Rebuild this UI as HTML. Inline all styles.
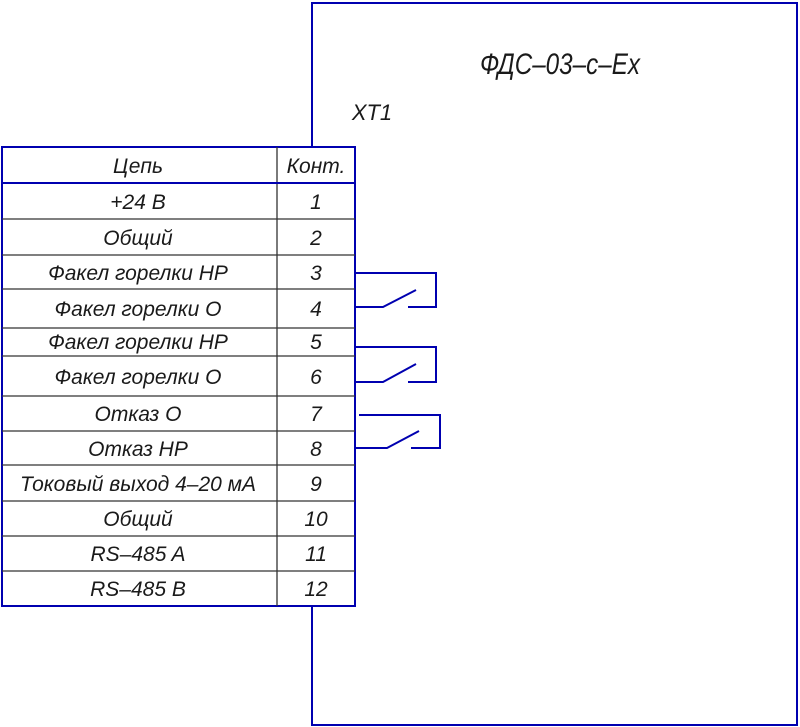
<!DOCTYPE html>
<html><head><meta charset="utf-8"><style>
html,body{margin:0;padding:0;background:#fff;}
svg{display:block}
text{font-family:"Liberation Sans Narrow","Liberation Sans",sans-serif;font-style:italic;fill:#1a1a1a;}
</style></head><body>
<svg width="800" height="727" viewBox="0 0 800 727" xmlns="http://www.w3.org/2000/svg">
<g stroke="#0000b0" stroke-width="2" fill="none">
<polyline points="312,147 312,3 797,3 797,725 312,725 312,606"/>
<rect x="2" y="147" width="353" height="459"/>
</g>
<g stroke="#333" stroke-width="1.3">
<line x1="277" y1="147" x2="277" y2="606"/>
<line x1="2" y1="183" x2="355" y2="183" stroke="#0000b0" stroke-width="2"/>
<line x1="2" y1="219" x2="355" y2="219"/>
<line x1="2" y1="255" x2="355" y2="255"/>
<line x1="2" y1="289" x2="355" y2="289"/>
<line x1="2" y1="328" x2="355" y2="328"/>
<line x1="2" y1="356" x2="355" y2="356"/>
<line x1="2" y1="396" x2="355" y2="396"/>
<line x1="2" y1="431" x2="355" y2="431"/>
<line x1="2" y1="465" x2="355" y2="465"/>
<line x1="2" y1="501" x2="355" y2="501"/>
<line x1="2" y1="536" x2="355" y2="536"/>
<line x1="2" y1="571" x2="355" y2="571"/>
</g>
<g stroke="#0000b0" stroke-width="2" fill="none">
<polyline points="355,273 436,273 436,307 408,307"/>
<polyline points="355,307 383,307 416,290"/>
<polyline points="355,347 436,347 436,382 408,382"/>
<polyline points="355,382 383,382 416,364"/>
<polyline points="359,415 440,415 440,448 411,448"/>
<polyline points="355,448 387,448 419,431"/>
</g>
<text x="560" y="74" font-size="30" text-anchor="middle" textLength="160" lengthAdjust="spacingAndGlyphs">ФДС–03–с–Ex</text>
<text x="372" y="120" font-size="22" text-anchor="middle">XT1</text>
<g font-size="21" text-anchor="middle">
<text x="138" y="173">Цепь</text><text x="316" y="173">Конт.</text>
<text x="138" y="209">+24 В</text><text x="316" y="209">1</text>
<text x="138" y="245">Общий</text><text x="316" y="245">2</text>
<text x="138" y="280">Факел горелки НР</text><text x="316" y="280">3</text>
<text x="138" y="316">Факел горелки О</text><text x="316" y="316">4</text>
<text x="138" y="349">Факел горелки НР</text><text x="316" y="349">5</text>
<text x="138" y="384">Факел горелки О</text><text x="316" y="384">6</text>
<text x="138" y="421">Отказ О</text><text x="316" y="421">7</text>
<text x="138" y="456">Отказ НР</text><text x="316" y="456">8</text>
<text x="138" y="491">Токовый выход 4–20 мА</text><text x="316" y="491">9</text>
<text x="138" y="526">Общий</text><text x="316" y="526">10</text>
<text x="138" y="561">RS–485 A</text><text x="316" y="561">11</text>
<text x="138" y="596">RS–485 B</text><text x="316" y="596">12</text>
</g>
</svg>
</body></html>
